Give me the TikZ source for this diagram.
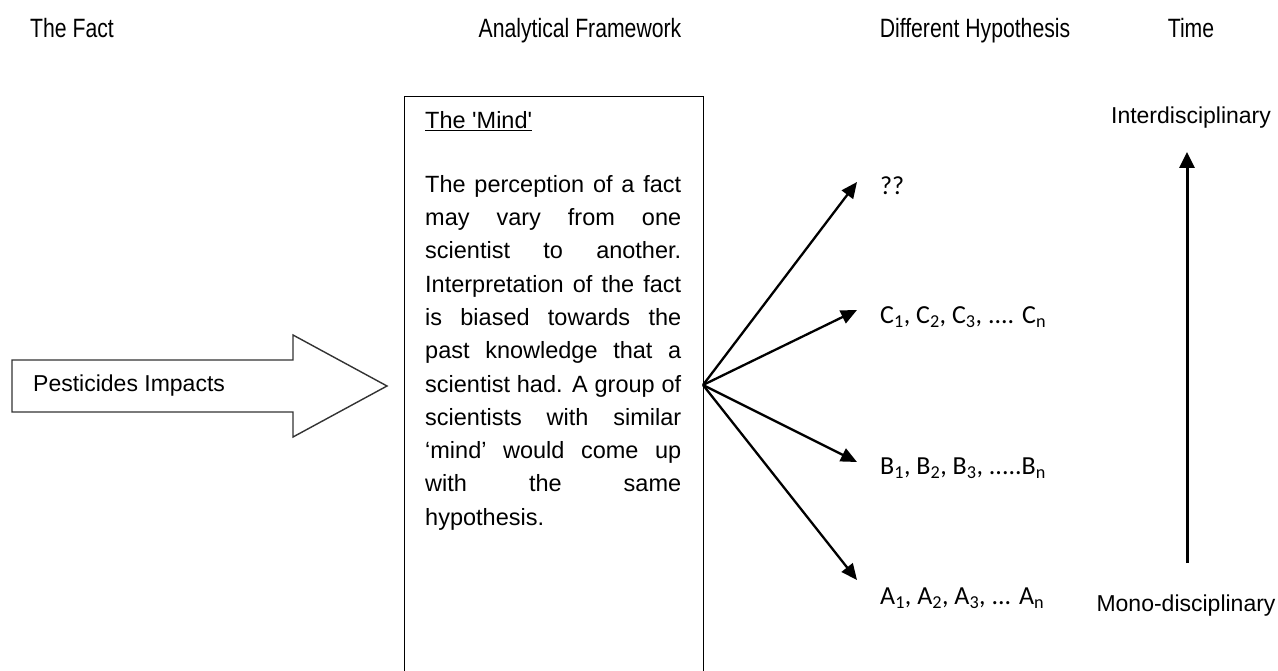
\documentclass[tikz,border=0pt]{standalone}
\usepackage{fontspec}
\setmainfont{Liberation Sans}
\newfontfamily\hdfont[FakeStretch=0.8]{Liberation Sans}
\newfontfamily\calib{Carlito}
\usetikzlibrary{arrows.meta}
\begin{document}
\begin{tikzpicture}[x=1pt,y=-1pt,
  header/.style={font=\hdfont\fontsize{26.5}{30}\selectfont, inner sep=0pt, anchor=base},
  plain/.style={font=\fontsize{23}{26}\selectfont, inner sep=0pt},
  hyp/.style={font=\calib\fontsize{26}{30}\selectfont, inner sep=0pt, anchor=west},
  fan/.style={line width=2.3pt, -{Triangle[length=16pt,width=14pt]}},
  timearrow/.style={line width=3pt, -{Triangle[length=16pt,width=15pt]}},
  blockarrow/.style={draw=black!80, line width=1.4pt, fill=white, line join=miter},
  mindbox/.style={draw, line width=1.4pt, minimum width=299pt, minimum height=620pt, anchor=north west, inner sep=0pt}
]
\clip (0,0) rectangle (1278,671);
\fill[white] (0,0) rectangle (1278,671);

% headers
\node[header] (hfact) at (72,38) {The Fact};
\node[header] (hframe) at (580,38) {Analytical Framework};
\node[header] (hhyp) at (975,38) {Different Hypothesis};
\node[header] (htime) at (1191,38) {Time};

% block arrow
\draw[blockarrow] (12,360) -- (293,360) -- (293,335) -- (387,386) -- (293,437) -- (293,412) -- (12,412) -- cycle;
\node[plain, anchor=west] (fact) at (33,386) {Pesticides Impacts};

% mind box
\node[mindbox] (mind) at (404,96) {};
\node[plain, anchor=base west, font=\fontsize{23.5}{26}\selectfont] (mindtitle) at (425,129) {\underline{The \textquotesingle Mind\textquotesingle}};
\node[anchor=north west, inner sep=0pt, align=left, font=\fontsize{23.5}{33.3}\selectfont] (mindtext) at (425,175) {%
\makebox[256pt][s]{The perception of a fact}\\
\makebox[256pt][s]{may vary from one}\\
\makebox[256pt][s]{scientist to another.}\\
\makebox[256pt][s]{Interpretation of the fact}\\
\makebox[256pt][s]{is biased towards the}\\
\makebox[256pt][s]{past knowledge that a}\\
\makebox[256pt][s]{scientist had. A group of}\\
\makebox[256pt][s]{scientists with similar}\\
\makebox[256pt][s]{`mind' would come up}\\
\makebox[256pt][s]{with the same}\\
hypothesis.};

% fan
\coordinate (o) at (703,385);
\coordinate (tq) at (857,182);
\coordinate (tc) at (857,310);
\coordinate (tb) at (857,462);
\coordinate (ta) at (857,580);
\node[hyp] (hq) at (880,186) {??};
\node[hyp] (hc) at (880,317) {C\textsubscript{1}, C\textsubscript{2}, C\textsubscript{3}, .... C\textsubscript{n}};
\node[hyp] (hb) at (880,468) {B\textsubscript{1}, B\textsubscript{2}, B\textsubscript{3}, .....B\textsubscript{n}};
\node[hyp] (ha) at (880,598) {A\textsubscript{1}, A\textsubscript{2}, A\textsubscript{3}, ... A\textsubscript{n}};
\draw[fan] (o) -- (tq);
\draw[fan] (o) -- (tc);
\draw[fan] (o) -- (tb);
\draw[fan] (o) -- (ta);

% time
\node[plain] (inter) at (1191,118) {Interdisciplinary};
\node[plain] (mono) at (1186,606) {Mono-disciplinary};
\coordinate (tbot) at (1187,563);
\coordinate (ttop) at (1187,152);
\draw[timearrow] (tbot) -- (ttop);
\end{tikzpicture}
\end{document}
